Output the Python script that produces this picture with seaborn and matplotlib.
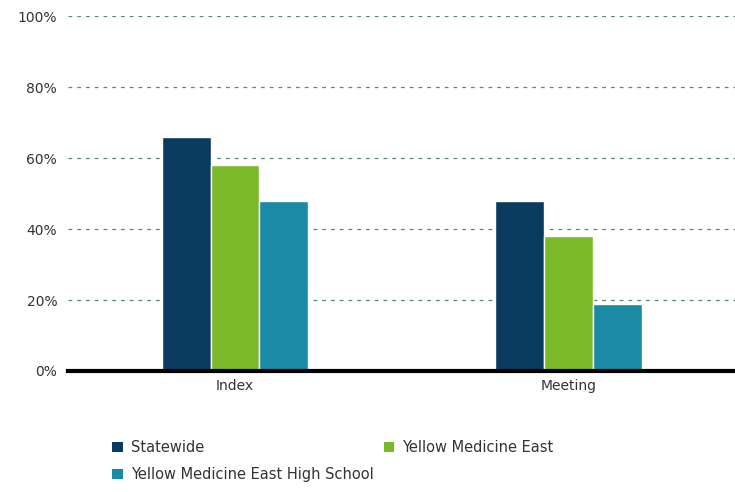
import pandas as pd
import seaborn as sns
import matplotlib.pyplot as plt
from matplotlib.patches import Patch
from matplotlib.ticker import PercentFormatter

categories = ['Index', 'Meeting']
groups = ['Statewide', 'Yellow Medicine East', 'Yellow Medicine East High School']
statewide = [66, 48]
yme = [58, 38]
yme_hs = [48, 19]
colors = ['#0b3a5f', '#7ab929', '#1a8aa5']

rows = []
for g, vals in zip(groups, [statewide, yme, yme_hs]):
    for c, v in zip(categories, vals):
        rows.append({'category': c, 'group': g, 'value': v})
df = pd.DataFrame(rows)

sns.set_style("white")
plt.rcParams['font.family'] = ['DejaVu Sans']

fig = plt.figure(figsize=(7.35, 4.92), dpi=100)
ax = fig.add_axes([0.093, 0.246, 0.907, 0.721])

sns.barplot(data=df, x='category', y='value', hue='group', palette=colors,
            saturation=1, width=0.44, gap=0, edgecolor='white', linewidth=1,
            legend=False, ax=ax, zorder=3)

ax.set_xlim(-0.5, 1.5)
ax.set_ylim(0, 100)
ax.set_yticks([0, 20, 40, 60, 80, 100])
ax.yaxis.set_major_formatter(PercentFormatter(decimals=0))
ax.grid(axis='y', color='#4f8a8b', linestyle=(0, (3, 4)), linewidth=0.9, zorder=0)
ax.set(xlabel='', ylabel='')
sns.despine(ax=ax, left=True, top=True, right=True)
ax.spines['bottom'].set_color('black')
ax.spines['bottom'].set_linewidth(3)
ax.spines['bottom'].set_zorder(4)
ax.tick_params(axis='both', length=0, labelsize=10, labelcolor='#333333')
ax.tick_params(axis='y', pad=8)
ax.tick_params(axis='x', pad=6)

# row-wise legend order: matplotlib fills columns first
order = [0, 2, 1]
handles = [Patch(facecolor=colors[i], edgecolor='none') for i in order]
labels = [groups[i] for i in order]
fig.legend(handles, labels, loc='upper left', bbox_to_anchor=(0.135, 0.132),
           ncol=2, frameon=False, fontsize=10.5, handlelength=0.7, handleheight=0.7,
           handletextpad=0.6, columnspacing=0.65, labelspacing=0.8,
           labelcolor='#333333')

fig.savefig('out.png', dpi=100)
